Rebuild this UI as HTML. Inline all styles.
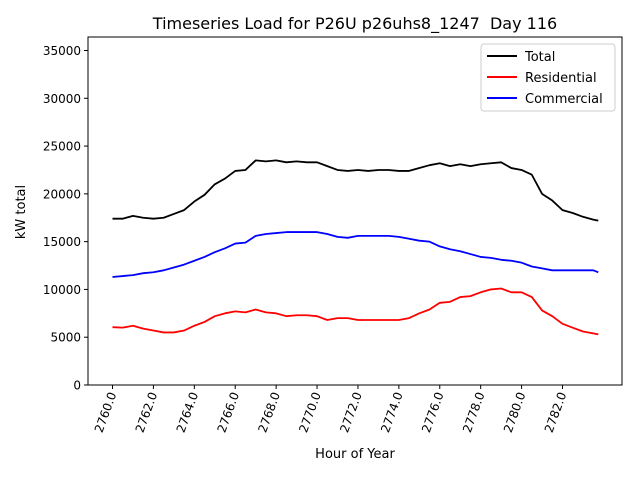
<!DOCTYPE html>
<html><head><meta charset="utf-8"><style>
body{margin:0;background:#fff;font-family:"Liberation Sans","DejaVu Sans",sans-serif}
text{font-family:"DejaVu Sans","Liberation Sans",sans-serif}
</style></head><body>
<svg id="chart" width="640" height="480" xmlns="http://www.w3.org/2000/svg">
<rect width="640" height="480" fill="#fff"/>
<g id="plot"></g>
</svg>
<script>
const hours=[2760,2760.5,2761,2761.5,2762,2762.5,2763,2763.5,2764,2764.5,2765,2765.5,2766,2766.5,2767,2767.5,2768,2768.5,2769,2769.5,2770,2770.5,2771,2771.5,2772,2772.5,2773,2773.5,2774,2774.5,2775,2775.5,2776,2776.5,2777,2777.5,2778,2778.5,2779,2779.5,2780,2780.5,2781,2781.5,2782,2782.5,2783,2783.5,2783.75];
const total=[17400,17400,17700,17500,17400,17500,17900,18300,19200,19900,21000,21600,22400,22500,23500,23400,23500,23300,23400,23300,23300,22900,22500,22400,22500,22400,22500,22500,22400,22400,22700,23000,23200,22900,23100,22900,23100,23200,23300,22700,22500,22000,20000,19300,18300,18000,17600,17300,17200];
const residential=[6050,6000,6200,5900,5700,5500,5500,5700,6200,6600,7200,7500,7700,7600,7900,7600,7500,7200,7300,7300,7200,6800,7000,7000,6800,6800,6800,6800,6800,7000,7500,7900,8600,8700,9200,9300,9700,10000,10100,9700,9700,9200,7800,7200,6400,6000,5600,5400,5300];
const commercial=[11300,11400,11500,11700,11800,12000,12300,12600,13000,13400,13900,14300,14800,14900,15600,15800,15900,16000,16000,16000,16000,15800,15500,15400,15600,15600,15600,15600,15500,15300,15100,15000,14500,14200,14000,13700,13400,13300,13100,13000,12800,12400,12200,12000,12000,12000,12000,12000,11800];
const yTicks=[0,5000,10000,15000,20000,25000,30000,35000];
const xTicks=[2760,2762,2764,2766,2768,2770,2772,2774,2776,2778,2780,2782];

const L=88,R=622,T=37,B=385;
const x=h=>112.5+(h-2760)*(562.5-112.5)/22;
const y=v=>385-v*(385-50.5)/35000;
const NS="http://www.w3.org/2000/svg";
const g=document.getElementById('plot');
function el(tag,attrs,txt){const e=document.createElementNS(NS,tag);for(const k in attrs)e.setAttribute(k,attrs[k]);if(txt!==undefined)e.textContent=txt;g.appendChild(e);return e;}

const frame=el('rect',{x:L,y:T,width:R-L,height:B-T,fill:'none',stroke:'#000','stroke-width':1});



yTicks.forEach(v=>{
  const t=el('line',{x1:L-4,x2:L,y1:y(v),y2:y(v),stroke:'#000'});
  
  
  const lb=el('text',{x:L-7,y:y(v)+4.5,'text-anchor':'end','font-size':12},String(v));
  
  
});
xTicks.forEach(h=>{
  const t=el('line',{x1:x(h),x2:x(h),y1:B,y2:B+4,stroke:'#000'});
  
  
  const lb=el('text',{x:0,y:0,'text-anchor':'end','font-size':12,transform:`translate(${x(h)+4},${B+9}) rotate(-70)`},h.toFixed(1));
  
  
});

function line(vals,color,name){
  const p=el('polyline',{points:vals.map((v,i)=>x(hours[i])+','+y(v)).join(' '),fill:'none',stroke:color,'stroke-width':1.8,'stroke-linejoin':'round'});
  
  
}
line(total,'#000','total-line');
line(residential,'#f00','residential-line');
line(commercial,'#00f','commercial-line');

const title=el('text',{x:355,y:29,'text-anchor':'middle','font-size':16},'Timeseries Load for P26U p26uhs8_1247 \u00a0Day 116');


const xt=el('text',{x:355,y:458,'text-anchor':'middle','font-size':13},'Hour of Year');


const yt=el('text',{x:0,y:0,'text-anchor':'middle','font-size':13,transform:'translate(25,212) rotate(-90)'},'kW total');



const lg=el('rect',{x:481,y:44,width:134,height:67,rx:3,fill:'#fff',stroke:'#ccc'});


[['Total','#000'],['Residential','#f00'],['Commercial','#00f']].forEach((d,i)=>{
  const yy=56+i*21;
  const s=el('line',{x1:487,x2:517,y1:yy,y2:yy,stroke:d[1],'stroke-width':2});
  
  
  const tx=el('text',{x:525,y:yy+5,'font-size':13},d[0]);
  
  
});
</script>
</body></html>
